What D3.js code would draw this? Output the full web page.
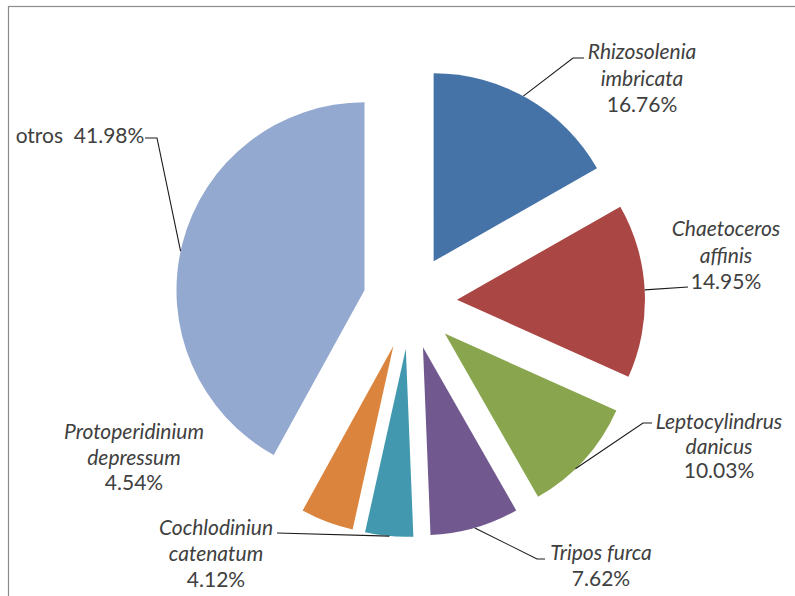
<!DOCTYPE html>
<html>
<head>
<meta charset="utf-8">
<script src="https://cdn.jsdelivr.net/npm/d3@7/dist/d3.min.js"></script>
<style>
  html, body { margin: 0; padding: 0; background: #fff; }
  svg text { font-family: Lato, "Open Sans", sans-serif; fill: #404040; white-space: pre; }
</style>
</head>
<body>
<svg id="chart" width="795" height="596"></svg>
<script>
// Species composition (% of total abundance), clockwise from 12 o'clock
const species = [
  "Rhizosolenia imbricata",
  "Chaetoceros affinis",
  "Leptocylindrus danicus",
  "Tripos furca",
  "Cochlodiniun catenatum",
  "Protoperidinium depressum",
  "otros"
];
const percents = [16.76, 14.95, 10.03, 7.62, 4.12, 4.54, 41.98];
const sliceColors = ["#4572A7", "#AA4643", "#89A54E", "#71588F", "#4198AF", "#DB843D", "#93A9CF"];

// Label text lines: [text, italic]
const labelLines = [
  [["Rhizosolenia", true], ["imbricata", true]],
  [["Chaetoceros", true], ["affinis", true]],
  [["Leptocylindrus", true], ["danicus", true]],
  [["Tripos furca", true]],
  [["Cochlodiniun", true], ["catenatum", true]],
  [["Protoperidinium", true], ["depressum", true]],
  [["otros  ", false]]
];

// Label placement: anchor x, first baseline, line spacing, whether the value sits
// on the same line, and leader line (angle on slice rim in degrees, then points) or null
const labelLayout = [
  { x: 642, y: 59,  lh: 26.5, inline: false, leader: { angle: 28.5, pts: [[573, 58], [584, 58]] } },
  { x: 726, y: 236, lh: 26.5, inline: false, leader: { angle: 87,   pts: [[688, 287]] } },
  { x: 719, y: 429, lh: 24.5, inline: false, leader: { angle: 136,  pts: [[643, 423], [652, 423]] } },
  { x: 601, y: 560, lh: 25.5, inline: false, leader: { angle: 164,  pts: [[537, 559], [545, 559]] } },
  { x: 216, y: 535, lh: 26,   inline: false, leader: { angle: 185,  pts: [[277, 533]] } },
  { x: 134, y: 439, lh: 25.5, inline: false, leader: null },
  { x: 80,  y: 143, lh: 26,   inline: true,  leader: { angle: 282,  pts: [[157, 138], [145, 138]] } }
];

const W = 795, H = 596;
const cx = 410, cy = 302, R = 188;
const explode = 0.25 * R;

const svg = d3.select("#chart");

// Chart area border
svg.append("rect")
  .attr("x", 8.5).attr("y", 6.5)
  .attr("width", W + 20).attr("height", H + 20)
  .attr("fill", "none").attr("stroke", "#8c8c8c").attr("stroke-width", 1.2);

const data = species.map((name, i) => ({ name, value: percents[i], color: sliceColors[i], i }));

const pie = d3.pie().sort(null).value(d => d.value);
const arcs = pie(data);
const arc = d3.arc().innerRadius(0).outerRadius(R);

// Offset of each exploded slice along its bisector
function offset(a) {
  const mid = (a.startAngle + a.endAngle) / 2;
  return [explode * Math.sin(mid), -explode * Math.cos(mid)];
}

const g = svg.append("g").attr("transform", `translate(${cx},${cy})`);

g.selectAll("path.slice")
  .data(arcs)
  .join("path")
  .attr("class", "slice")
  .attr("transform", d => { const o = offset(d); return `translate(${o[0]},${o[1]})`; })
  .attr("d", arc)
  .attr("fill", d => d.data.color);

// Leader lines
arcs.forEach((a, i) => {
  const L = labelLayout[i];
  if (!L.leader) return;
  const o = offset(a);
  const t = L.leader.angle * Math.PI / 180;
  const start = [cx + o[0] + R * Math.sin(t), cy + o[1] - R * Math.cos(t)];
  const pts = [start].concat(L.leader.pts);
  svg.append("path")
    .attr("d", d3.line()(pts))
    .attr("fill", "none")
    .attr("stroke", "#1a1a1a")
    .attr("stroke-width", 1.1);
});

// Labels
arcs.forEach((a, i) => {
  const L = labelLayout[i];
  const txt = svg.append("text")
    .attr("text-anchor", "middle")
    .attr("font-size", 21);
  const valueText = d3.format(".2f")(a.data.value) + "%";
  const lines = labelLines[i];
  lines.forEach((ln, k) => {
    txt.append("tspan")
      .attr("x", L.x)
      .attr("y", L.y + k * L.lh)
      .attr("font-style", ln[1] ? "italic" : "normal")
      .text(ln[0]);
    if (L.inline) {
      txt.append("tspan").attr("font-style", "normal").text(valueText);
    }
  });
  if (!L.inline) {
    txt.append("tspan")
      .attr("x", L.x)
      .attr("y", L.y + lines.length * L.lh)
      .attr("font-style", "normal")
      .text(valueText);
  }
});
</script>
</body>
</html>
